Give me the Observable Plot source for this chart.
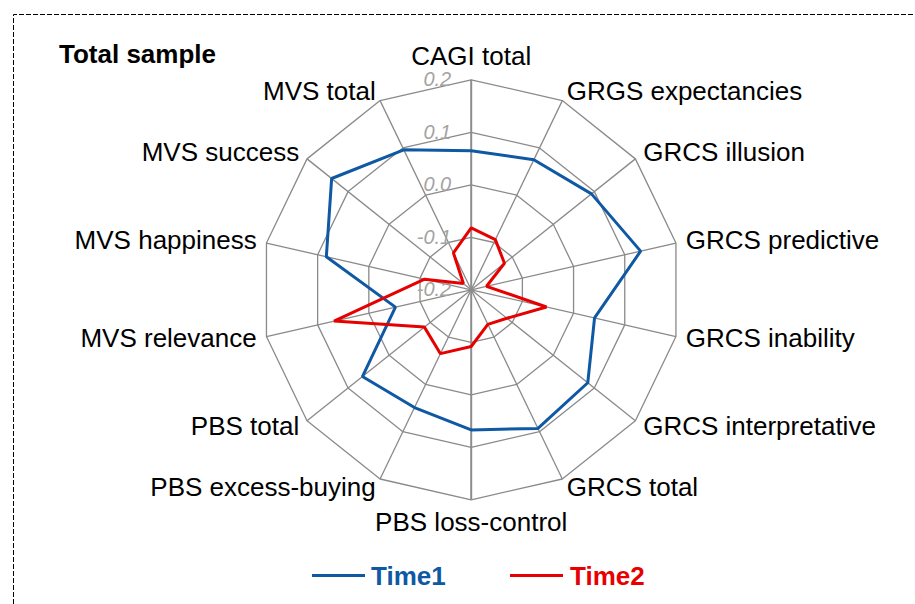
<!DOCTYPE html>
<html>
<head>
<meta charset="utf-8">
<script src="https://cdn.jsdelivr.net/npm/d3@7"></script>
<script src="https://cdn.jsdelivr.net/npm/@observablehq/plot@0.6"></script>
<style>
  html, body { margin: 0; padding: 0; background: #fff; }
  #wrap { position: relative; width: 915px; height: 604px; overflow: hidden; font-family: "Liberation Sans", Arial, sans-serif; }
  #frame { position: absolute; left: 0; top: 0; }
  #chart { position: absolute; left: 0; top: 0; }
  #title { position: absolute; left: 59px; top: 41px; font-size: 26px; line-height: 26px; font-weight: bold; color: #000; white-space: nowrap; }
  .leg { position: absolute; top: 563px; font-size: 26px; line-height: 26px; font-weight: bold; white-space: nowrap; }
  .legline { position: absolute; top: 574px; height: 3px; }
</style>
</head>
<body>
<div id="wrap">
  <svg id="frame" width="915" height="604"><path d="M13.5,604 V14.5 H915" fill="none" stroke="#000" stroke-width="1" stroke-dasharray="5,2"/></svg>
  <div id="chart"></div>
  <div id="title">Total sample</div>
  <div id="legend"></div>
</div>
<script>
// ---- data ----
const categories = ["CAGI total", "GRGS expectancies", "GRCS illusion", "GRCS predictive", "GRCS inability", "GRCS interpretative", "GRCS total", "PBS loss-control", "PBS excess-buying", "PBS total", "MVS relevance", "MVS happiness", "MVS success", "MVS total"];
const time1 = [0.065, 0.075, 0.093, 0.131, 0.041, 0.084, 0.093, 0.067, 0.049, 0.065, -0.052, 0.083, 0.140, 0.096];
const time2 = [-0.082, -0.094, -0.119, -0.170, -0.053, -0.113, -0.127, -0.092, -0.065, -0.086, 0.068, -0.109, -0.181, -0.122];
const ringTicks = [-0.2, -0.1, 0.0, 0.1, 0.2];
const tickLabels = ["-0.2", "-0.1", "0.0", "0.1", "0.2"];
const seriesNames = ["Time1", "Time2"];
const seriesColors = ["#0f58a3", "#e60000"];

// ---- geometry helpers (value -> polar -> x/y data units) ----
const rMin = ringTicks[0];
const rMax = ringTicks[ringTicks.length - 1];
const n = categories.length;
const ang = i => i * 2 * Math.PI / n;
const px = (i, v) => (v - rMin) * Math.sin(ang(i));
const py = (i, v) => (v - rMin) * Math.cos(ang(i));

const W = 915, H = 604;
const cx = 470.7, cy = 289.3, R = 210;       // layout of the radar in pixels
const k = R / (rMax - rMin);                  // pixels per data unit
const xDomain = [-cx / k, (W - cx) / k];
const yDomain = [-(H - cy) / k, cy / k];

// rings
const ringData = [];
ringTicks.slice(1).forEach(t => categories.forEach((c, i) => ringData.push({tick: t, i, v: t})));
// spokes
const spokes = categories.map((c, i) => ({i, c}));
// series
const seriesData = [];
[time1, time2].forEach((arr, s) => arr.forEach((v, i) => seriesData.push({series: seriesNames[s], i, v})));
// labels
const padSide = 10 / k, padTB = 23 / k;
const labels = categories.map((c, i) => ({c, i}));
const topBottom = labels.filter(d => d.i === 0 || d.i === n / 2);
const rightSide = labels.filter(d => d.i > 0 && d.i < n / 2);
const leftSide = labels.filter(d => d.i > n / 2);
const ticks = ringTicks.map((t, j) => ({t, label: tickLabels[j]}));

const font = "'Liberation Sans', Arial, sans-serif";
const gridColor = "#8a8a8a";

const plot = Plot.plot({
  width: W, height: H,
  margin: 0,
  x: {domain: xDomain, range: [0, W], axis: null},
  y: {domain: yDomain, range: [H, 0], axis: null},
  color: {domain: seriesNames, range: seriesColors},
  style: {fontFamily: font, background: "transparent", overflow: "visible"},
  marks: [
    Plot.line(ringData, {x: d => px(d.i, d.v), y: d => py(d.i, d.v), z: "tick", curve: "linear-closed", stroke: gridColor, strokeWidth: 1.3}),
    Plot.link(spokes.filter(d => d.i !== 0 && d.i !== n / 2), {x1: d => px(d.i, rMin), y1: d => py(d.i, rMin), x2: d => px(d.i, rMax), y2: d => py(d.i, rMax), stroke: gridColor, strokeWidth: 1.3}),
    Plot.link(spokes.filter(d => d.i === 0 || d.i === n / 2), {x1: d => px(d.i, rMin), y1: d => py(d.i, rMin), x2: d => px(d.i, rMax), y2: d => py(d.i, rMax), stroke: "#8c8c8c", strokeWidth: 2}),
    Plot.text(ticks, {x: d => px(0, rMin), y: d => py(0, d.t), text: "label", textAnchor: "end", dx: -20, fontSize: 20, fontStyle: "italic", fill: "#a3a3a3"}),
    Plot.text(topBottom, {x: d => px(d.i, rMax + padTB), y: d => py(d.i, rMax + padTB), text: "c", textAnchor: "middle", fontSize: 26, fill: "#000"}),
    Plot.text(rightSide, {x: d => px(d.i, rMax + padSide), y: d => py(d.i, rMax + padSide), text: "c", textAnchor: "start", fontSize: 26, fill: "#000"}),
    Plot.text(leftSide, {x: d => px(d.i, rMax + padSide), y: d => py(d.i, rMax + padSide), text: "c", textAnchor: "end", fontSize: 26, fill: "#000"}),
    Plot.line(seriesData, {x: d => px(d.i, d.v), y: d => py(d.i, d.v), z: "series", stroke: "series", curve: "linear-closed", strokeWidth: 3, strokeLinejoin: "miter"})
  ]
});
document.getElementById("chart").appendChild(plot);

// legend (HTML overlay)
const legend = document.getElementById("legend");
const legX = [[312, 371], [510, 570]];
seriesNames.forEach((name, s) => {
  const ln = document.createElement("div");
  ln.className = "legline";
  ln.style.left = legX[s][0] + "px";
  ln.style.width = "53px";
  ln.style.background = seriesColors[s];
  legend.appendChild(ln);
  const tx = document.createElement("div");
  tx.className = "leg";
  tx.style.left = legX[s][1] + "px";
  tx.style.color = seriesColors[s];
  tx.textContent = name;
  legend.appendChild(tx);
});
</script>
</body>
</html>
